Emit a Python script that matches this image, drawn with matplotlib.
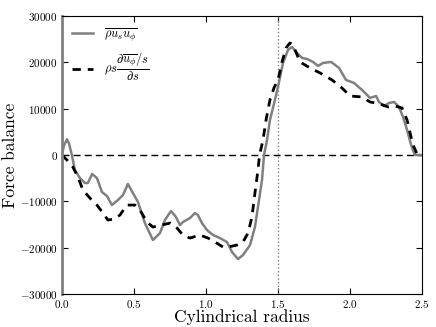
import matplotlib
matplotlib.use('Agg')
import matplotlib.pyplot as plt
import numpy as np

plt.rcParams['font.family'] = 'serif'
plt.rcParams['font.serif'] = ['cmr10']
plt.rcParams['mathtext.fontset'] = 'cm'
plt.rcParams['axes.formatter.use_mathtext'] = True
plt.rcParams['axes.unicode_minus'] = True

# Reynolds stress term (grey solid)
s_rey = [0.0, 0.014, 0.035, 0.049, 0.069, 0.09, 0.125, 0.16, 0.18, 0.21, 0.243, 0.278,
         0.313, 0.347, 0.389, 0.424, 0.458, 0.493, 0.528, 0.576, 0.632, 0.681, 0.715,
         0.757, 0.792, 0.819, 0.84, 0.889, 0.924, 0.944, 0.972, 1.007, 1.049, 1.097,
         1.146, 1.181, 1.222, 1.257, 1.306, 1.340, 1.361, 1.389, 1.403, 1.424, 1.444,
         1.479, 1.5, 1.535, 1.569, 1.597, 1.632, 1.667, 1.701, 1.743, 1.778, 1.813,
         1.868, 1.924, 1.972, 2.028, 2.083, 2.139, 2.181, 2.201, 2.236, 2.271, 2.306,
         2.34, 2.368, 2.396, 2.424, 2.45, 2.5]
f_rey = [0, 2000, 3400, 2500, 0, -3240, -4970, -6050, -6050, -4100, -4970, -7990,
         -8860, -10800, -9720, -8640, -6260, -8210, -10150, -14690, -18360, -16850, -14040,
         -12100, -13390, -15120, -14470, -13610, -12530, -12960, -14690, -16200, -17280, -17930,
         -18790, -20950, -22460, -21600, -19440, -15550, -11230, -5400, 0, 3240, 7560,
         11880, 14690, 19870, 22680, 23330, 22030, 20950, 20740, 20090, 19220, 19870,
         20090, 18790, 16200, 15550, 14040, 12310, 12740, 11450, 10580, 11230, 11450,
         10370, 8210, 5400, 2160, 0, 0]

# Meridional circulation term (black dashed)
s_mer = [0.0, 0.035, 0.076, 0.111, 0.146, 0.194, 0.243, 0.285, 0.319, 0.361, 0.403,
         0.451, 0.507, 0.542, 0.590, 0.632, 0.694, 0.75, 0.799, 0.840, 0.889, 0.958,
         1.014, 1.063, 1.118, 1.153, 1.215, 1.257, 1.292, 1.319, 1.340, 1.361, 1.372,
         1.396, 1.417, 1.444, 1.472, 1.5, 1.528, 1.556, 1.583, 1.604, 1.653, 1.722,
         1.792, 1.875, 1.944, 2.0, 2.083, 2.139, 2.208, 2.264, 2.313, 2.361, 2.396,
         2.417, 2.438, 2.465, 2.5]
f_mer = [0, -1080, -2590, -4750, -7560, -9290, -10800, -12530, -14040, -13820, -12960,
         -10800, -10800, -11880, -14470, -15550, -15120, -14690, -15770, -17280, -17930, -17280,
         -17930, -18790, -19870, -19870, -19440, -18790, -16850, -13390, -8210, -3240, 0,
         3240, 7560, 11880, 14470, 16200, 20090, 23110, 24190, 23760, 20090, 18790,
         17710, 16200, 14470, 12740, 12530, 11450, 11020, 10370, 10580, 10150, 7560,
         4750, 2160, 200, 0]

fig = plt.figure(figsize=(4.36, 3.27), dpi=100)
ax = fig.add_axes([0.142, 0.101, 0.826, 0.850])

ax.axhline(0, color='k', ls='--', lw=1, dashes=(5, 3))
ax.axvline(1.5, color='0.5', ls=':', lw=1)
ax.plot(s_rey, f_rey, color='0.5', lw=1.8, label=r'$\overline{\rho u_s u_\phi}$')
ax.plot(s_mer, f_mer, color='k', ls='--', lw=2, dashes=(3, 2.5),
        label=r'$\rho s \dfrac{\partial \overline{u_\phi}/s}{\partial s}$')

ax.set_xlim(0, 2.5)
ax.set_ylim(-30000, 30000)
ax.set_xticks(np.arange(0, 2.51, 0.5))
ax.set_yticks(np.arange(-30000, 30001, 10000))
ax.tick_params(direction='in', top=True, right=True, labelsize=8, length=4, pad=3)
ax.spines['left'].set_color('0.5')
ax.spines['left'].set_linewidth(2)

ax.set_xlabel('Cylindrical radius', fontsize=12.5, labelpad=-1)
ax.set_ylabel('Force balance', fontsize=12.5, labelpad=1)
ax.legend(loc='upper left', frameon=False, fontsize=9, handlelength=1.7,
          borderaxespad=0.4, labelspacing=0.6, handletextpad=0.9)

fig.savefig('out.png', dpi=100)
